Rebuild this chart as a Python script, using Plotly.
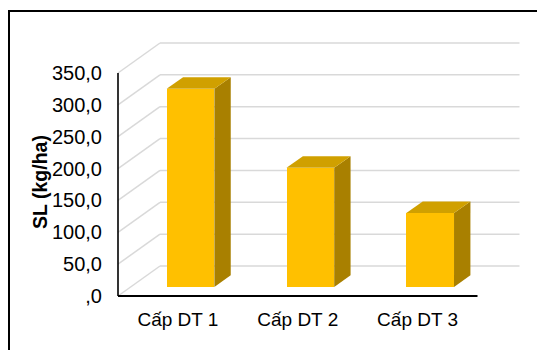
import plotly.graph_objects as go

# Data
categories = ["Cấp DT 1", "Cấp DT 2", "Cấp DT 3"]
yields = [311.0, 187.0, 116.0]
tick_values = [0, 50, 100, 150, 200, 250, 300, 350]
tick_labels = [",0", "50,0", "100,0", "150,0", "200,0", "250,0", "300,0", "350,0"]

# Canvas / projection settings (pixels)
W, H = 537, 350
AX_LEFT_PX, AX_RIGHT_PX = 118.0, 477.5      # front floor edge
AX_ZERO_PX, AX_TOP_PX = 296.0, 73.0         # front wall 0 and 350
PLOT_L, PLOT_R, PLOT_T, PLOT_B = 112, 521, 40, 302
DEPTH_PX_X, DEPTH_PX_Y = 42.0, 30.0         # oblique depth of the walls

n = len(categories)
ux = (AX_RIGHT_PX - AX_LEFT_PX) / n                     # px per category
uy = (AX_ZERO_PX - AX_TOP_PX) / tick_values[-1]         # px per unit
dx = DEPTH_PX_X / ux                                    # depth in x units
dy = DEPTH_PX_Y / uy                                    # depth in y units

x_lo, x_hi = -0.5, n - 0.5
x_range = [x_lo - (AX_LEFT_PX - PLOT_L) / ux, x_hi + (PLOT_R - AX_RIGHT_PX) / ux]
y_range = [-(PLOT_B - AX_ZERO_PX) / uy, (AX_ZERO_PX - PLOT_T) / uy]

# Bar geometry inside the depth
bar_w = 0.398
f_front, f_depth = 0.30, 0.39
front_off_x, front_off_y = f_front * dx, f_front * dy
bar_dx, bar_dy = f_depth * dx, f_depth * dy

FRONT = "#FFC000"
TOP = "#D0A000"
SIDE = "#A98000"
GRID = "#D9D9D9"
FONT = "Liberation Sans, Arial, sans-serif"

fig = go.Figure()

# Front faces
xs = [i + front_off_x for i in range(n)]
fig.add_trace(go.Bar(
    x=xs, y=yields, base=[front_off_y] * n, width=bar_w,
    marker=dict(color=FRONT, line=dict(width=0)),
    hoverinfo="skip", showlegend=False,
))

# Top and side faces
for xc, v in zip(xs, yields):
    xl, xr = xc - bar_w / 2, xc + bar_w / 2
    yb, yt = front_off_y, front_off_y + v
    fig.add_trace(go.Scatter(
        x=[xr, xr, xr + bar_dx, xr + bar_dx, xr],
        y=[yb, yt, yt + bar_dy, yb + bar_dy, yb],
        mode="lines", fill="toself", fillcolor=SIDE,
        line=dict(width=0, color=SIDE), hoverinfo="skip", showlegend=False,
    ))
    fig.add_trace(go.Scatter(
        x=[xl, xr, xr + bar_dx, xl + bar_dx, xl],
        y=[yt, yt, yt + bar_dy, yt + bar_dy, yt],
        mode="lines", fill="toself", fillcolor=TOP,
        line=dict(width=0, color=TOP), hoverinfo="skip", showlegend=False,
    ))

shapes = []
# Back-wall gridlines and side-wall diagonals
for t in tick_values:
    shapes.append(dict(type="line", xref="x", yref="y", layer="below",
                       x0=x_lo + dx, y0=t + dy, x1=x_hi + dx, y1=t + dy,
                       line=dict(color=GRID, width=1.5)))
    shapes.append(dict(type="line", xref="x", yref="y", layer="below",
                       x0=x_lo, y0=t, x1=x_lo + dx, y1=t + dy,
                       line=dict(color=GRID, width=1.5)))
# Front axis lines
shapes.append(dict(type="line", xref="x", yref="y", x0=x_lo, y0=0, x1=x_lo, y1=tick_values[-1],
                   line=dict(color="black", width=1.6)))
shapes.append(dict(type="line", xref="x", yref="y", x0=x_lo, y0=0, x1=x_hi, y1=0,
                   line=dict(color="black", width=2)))
# Outer frame
pw, ph = PLOT_R - PLOT_L, PLOT_B - PLOT_T
shapes.append(dict(type="rect", xref="paper", yref="paper",
                   x0=(9 - PLOT_L) / pw, x1=(W + 10 - PLOT_L) / pw,
                   y0=(PLOT_B - (H + 10)) / ph, y1=(PLOT_B - 11) / ph,
                   line=dict(color="black", width=2)))

fig.update_layout(
    width=W, height=H,
    margin=dict(l=PLOT_L, r=W - PLOT_R, t=PLOT_T, b=H - PLOT_B, pad=0),
    paper_bgcolor="white", plot_bgcolor="white",
    font=dict(family=FONT, size=19, color="black"),
    shapes=shapes, showlegend=False, bargap=0,
    xaxis=dict(range=x_range, tickmode="array", tickvals=list(range(n)), ticktext=categories,
               showgrid=False, zeroline=False, showline=False, ticks="",
               ticklabelstandoff=4, fixedrange=True),
    yaxis=dict(range=y_range, tickmode="array", tickvals=tick_values, ticktext=tick_labels,
               showgrid=False, zeroline=False, showline=False, ticks="",
               ticklabelstandoff=9, tickfont=dict(size=20), fixedrange=True),
    annotations=[dict(text="<b>SL (kg/ha)</b>", textangle=-90, showarrow=False,
                      xref="paper", yref="y", x=(40 - PLOT_L) / pw, y=(AX_ZERO_PX - 182) / uy,
                      xanchor="center", yanchor="middle", font=dict(size=19.5))],
)

fig.write_html("out.html")
